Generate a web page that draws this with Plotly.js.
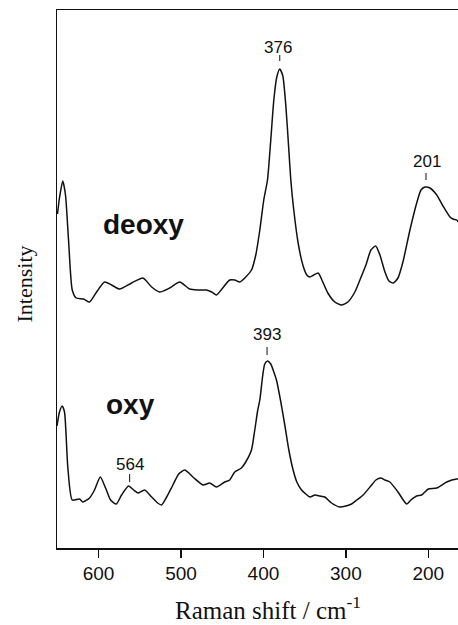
<!DOCTYPE html>
<html>
<head>
<meta charset="utf-8">
<script src="https://cdn.plot.ly/plotly-3.0.1.min.js"></script>
<style>html,body{margin:0;padding:0;background:#fff;}#chart{width:458px;height:625px;}</style>
</head>
<body>
<div id="chart"></div>
<script>
// Raman shift (cm-1) and intensity (arbitrary units)
var deoxyShift = [649.8,647.4,643.4,640.1,636.4,631.9,627.1,618.2,610.9,602.4,592.7,584.2,574.5,559.9,546.2,535.6,525.9,513.8,501.6,489.5,479.8,469.2,462.7,457.0,449.4,440.9,434.8,428.7,421.4,414.5,409.3,404.4,399.6,395.1,391.1,387.4,383.8,380.2,376.5,372.9,369.2,366.8,363.2,357.9,352.2,347.4,343.7,338.9,333.6,329.1,321.9,313.4,305.2,297.6,289.1,283.0,275.7,269.6,263.9,258.7,252.6,247.8,242.5,236.8,230.8,222.3,214.1,208.9,204.0,198.0,189.8,182.2,173.7,170.0,165.5,163.9];
var deoxyIntensity = [334,350,367,353,308,258,250,249,246,256,266,263,259,265,270,261,256,260,266,259,258,258,256,253,260,268,268,266,271,278,293,318,348,368,408,448,471,479,472,443,398,368,338,305,283,273,271,273,275,268,255,246,243,246,256,268,283,298,302,293,276,267,265,270,286,318,345,358,361,360,353,342,331,329,328,326];

var oxyShift = [650.4,647.4,644.1,641.3,637.3,631.9,623.1,619.1,610.9,604.9,597.9,591.5,585.4,578.5,572.1,563.6,557.5,552.3,544.1,535.6,528.3,523.8,517.4,509.8,502.8,495.5,485.5,473.3,465.2,457.0,446.9,440.9,434.8,426.7,421.5,414.5,410.5,406.9,404.4,400.8,398.4,395.1,391.1,387.4,384.2,378.9,374.1,369.2,364.0,359.5,353.8,348.6,343.7,337.6,331.6,325.5,317.4,307.3,300.0,293.1,286.7,279.0,268.8,263.6,257.8,252.6,246.6,236.8,226.3,221.1,214.1,208.1,200.0,189.8,177.7,165.5,164.0];
var oxyIntensity = [122,136,142,136,81,48,49,46,50,58,71,60,48,44,53,62,58,55,58,51,45,43,51,63,74,78,71,63,65,61,66,68,76,80,86,98,118,138,148,173,184,187,184,176,168,146,123,98,78,66,58,54,51,53,52,51,45,41,42,44,48,53,63,68,70,68,66,56,44,48,52,53,59,60,66,69,69];

var tickValues = [600,500,400,300,200];
var tickLabels = ['600','500','400','300','200'];

// peak labels: text, label position, tick segment
var peakLabels = ['376','201','393','564'];
var peakLabelX = [382.6,202.0,396.0,562.0];
var peakLabelY = [501,387,214,84];
var peakTickX = [380.2,202.8,395.6,562.3];
var peakTickY0 = [487,368,193,66];
var peakTickY1 = [493,375,201,74];

var seriesNames = ['deoxy','oxy'];
var seriesLabelX = [597.0,593.0];
var seriesLabelY = [324,144];

var xTitle = 'Raman shift / cm<sup>-1</sup>';
var yTitle = 'Intensity';

var lineStyle = {color:'#111', width:1.5, shape:'spline', smoothing:0.6};
var traces = [
  {x: deoxyShift, y: deoxyIntensity, type:'scatter', mode:'lines', line: lineStyle, name:'deoxy', hoverinfo:'x+y'},
  {x: oxyShift, y: oxyIntensity, type:'scatter', mode:'lines', line: lineStyle, name:'oxy', hoverinfo:'x+y'}
];

var annotations = [];
var shapes = [];
for (var i=0;i<peakLabels.length;i++){
  annotations.push({x:peakLabelX[i], y:peakLabelY[i], xref:'x', yref:'y', text:peakLabels[i], showarrow:false,
    xanchor:'center', yanchor:'middle', font:{family:'Liberation Sans, Arial, sans-serif', size:17, color:'#111'}});
  shapes.push({type:'line', xref:'x', yref:'y', x0:peakTickX[i], x1:peakTickX[i], y0:peakTickY0[i], y1:peakTickY1[i],
    line:{color:'#111', width:1}});
}
for (var j=0;j<seriesNames.length;j++){
  annotations.push({x:seriesLabelX[j], y:seriesLabelY[j], xref:'x', yref:'y', text:'<b>'+seriesNames[j]+'</b>', showarrow:false,
    xanchor:'left', yanchor:'middle', font:{family:'Liberation Sans, Arial, sans-serif', size:28, color:'#111'}});
}
// axis titles placed as annotations for exact positioning
annotations.push({xref:'paper', yref:'paper', x:-0.082, y:0.49, text:yTitle, textangle:-90, showarrow:false,
  xanchor:'center', yanchor:'middle', font:{family:'Liberation Serif, Times New Roman, serif', size:22, color:'#111'}});
annotations.push({xref:'paper', yref:'paper', x:0.526, y:-0.112, text:xTitle, showarrow:false,
  xanchor:'center', yanchor:'middle', font:{family:'Liberation Serif, Times New Roman, serif', size:25, color:'#111'}});

var layout = {
  width:458, height:625,
  margin:{l:57, r:0, t:10, b:77},
  paper_bgcolor:'#fff', plot_bgcolor:'#fff',
  showlegend:false,
  xaxis:{
    range:[650.4,164], autorange:false,
    tickmode:'array', tickvals:tickValues, ticktext:tickLabels,
    ticks:'outside', ticklen:8, tickwidth:1.5, tickcolor:'#111',
    showline:true, linecolor:'#111', linewidth:1.5, mirror:true,
    showgrid:false, zeroline:false,
    tickfont:{family:'Liberation Sans, Arial, sans-serif', size:19, color:'#111'}
  },
  yaxis:{
    range:[0,538], autorange:false,
    showticklabels:false, ticks:'',
    showline:true, linecolor:'#111', linewidth:1.5, mirror:false,
    showgrid:false, zeroline:false
  },
  annotations: annotations,
  shapes: shapes
};

Plotly.newPlot('chart', traces, layout, {displayModeBar:false, staticPlot:true});
</script>
</body>
</html>
